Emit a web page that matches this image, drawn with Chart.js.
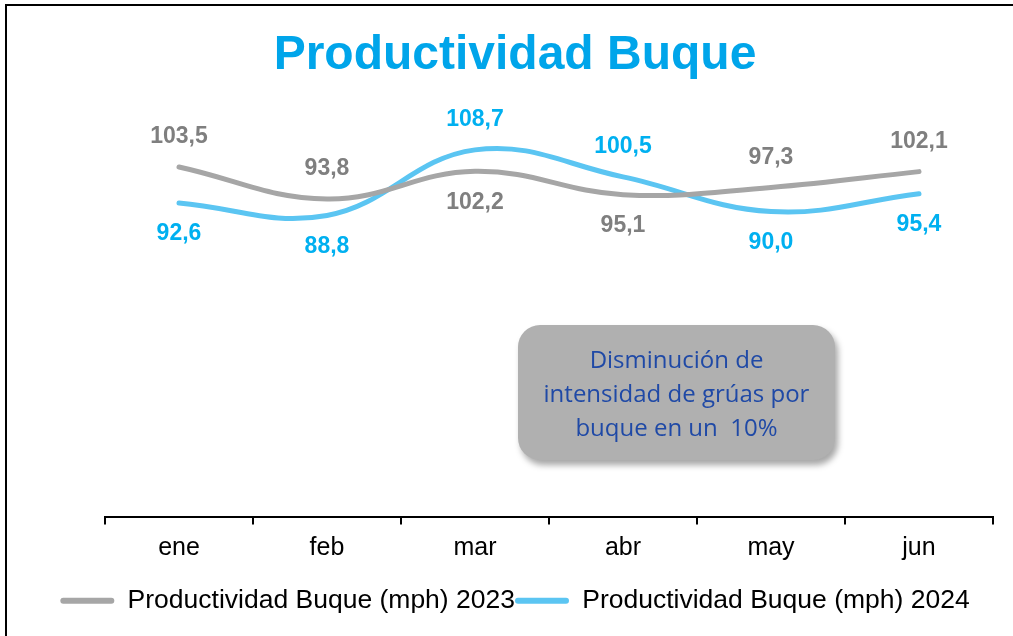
<!DOCTYPE html>
<html>
<head>
<meta charset="utf-8">
<script src="https://cdn.jsdelivr.net/npm/chart.js@4"></script>
<style>
  body { margin: 0; background: #fff; }
  #wrap { position: relative; width: 1013px; height: 636px; overflow: hidden; }
  #frame { position: absolute; left: 5px; top: 4px; width: 1100px; height: 700px;
           border-left: 2px solid #000; border-top: 2px solid #000; }
  #note { position: absolute; left: 518px; top: 325px; width: 317px; height: 135px;
          background: #b0b0b0; border-radius: 22px; box-shadow: 3px 5px 6px rgba(0,0,0,0.35);
          display: flex; align-items: center; justify-content: center; text-align: center;
          font-family: "Open Sans", sans-serif; font-size: 24px; line-height: 34px; color: #1f49a6; }
</style>
</head>
<body>
<div id="wrap">
  <div id="frame"></div>
  <canvas id="chart" width="1013" height="636"></canvas>
  <div id="note">Disminución de<br>intensidad de grúas por<br>buque en un&nbsp; 10%</div>
</div>
<script>
// data
const months = ['ene', 'feb', 'mar', 'abr', 'may', 'jun'];
const prod2023 = [103.5, 93.8, 102.2, 95.1, 97.3, 102.1];
const prod2024 = [92.6, 88.8, 108.7, 100.5, 90.0, 95.4];

// where each value label sits relative to its point
const place2023 = ['above', 'above', 'below', 'below', 'above', 'above'];
const place2024 = ['below', 'below', 'above', 'above', 'below', 'below'];

// Plugin to write the values next to the points
const valueLabels = {
    id: 'valueLabels',
    afterDatasetsDraw(chart) {
        const ctx = chart.ctx;
        ctx.save();
        ctx.font = 'bold 23px Arial, "Liberation Sans", sans-serif';
        ctx.textAlign = 'center';
        ctx.textBaseline = 'middle';
        chart.data.datasets.forEach((ds, i) => {
            const meta = chart.getDatasetMeta(i);
            meta.data.forEach((pt, j) => {
                const dy = ds.places[j] === 'above' ? -30 : 31;
                ctx.fillStyle = ds.labelColor;
                ctx.fillText(ds.data[j].toFixed(1).replace('.', ','), pt.x, pt.y + dy);
            });
        });
        ctx.restore();
    }
};

const ctx = document.getElementById('chart').getContext('2d');
new Chart(ctx, {
    type: 'line',
    data: {
        labels: months,
        datasets: [{
            label: 'Productividad Buque (mph) 2023',
            data: prod2023,
            places: place2023,
            labelColor: '#7f7f7f',
            borderColor: '#a6a6a6',
            backgroundColor: '#a6a6a6',
            borderWidth: 5,
            borderCapStyle: 'round',
            pointRadius: 0,
            tension: 0.4
        }, {
            label: 'Productividad Buque (mph) 2024',
            data: prod2024,
            places: place2024,
            labelColor: '#00b0f0',
            borderColor: '#5bc5f2',
            backgroundColor: '#5bc5f2',
            borderWidth: 5,
            borderCapStyle: 'round',
            pointRadius: 0,
            tension: 0.4
        }]
    },
    options: {
        responsive: false,
        animation: false,
        layout: { padding: { left: 37, right: 20, top: 0, bottom: 12 } },
        plugins: {
            title: {
                display: true,
                text: 'Productividad Buque',
                color: '#00a5ea',
                font: { family: 'Arial, "Liberation Sans", sans-serif', size: 48, weight: 'bold' },
                padding: { top: 27, bottom: 28 }
            },
            legend: {
                position: 'bottom',
                labels: {
                    color: '#000',
                    font: { family: 'Arial, "Liberation Sans", sans-serif', size: 26.5 },
                    boxWidth: 54,
                    boxHeight: 6,
                    padding: 0,
                    useBorderRadius: true,
                    borderRadius: 3,
                    generateLabels(chart) {
                        const items = Chart.defaults.plugins.legend.labels.generateLabels(chart);
                        items.forEach(it => { it.lineWidth = 0; });
                        return items;
                    }
                }
            },
            tooltip: { enabled: false }
        },
        scales: {
            x: {
                offset: true,
                grid: { offset: true, drawOnChartArea: false, tickLength: 8, color: '#000', lineWidth: 2 },
                border: { display: true, color: '#000', width: 2 },
                ticks: {
                    color: '#000', padding: 9,
                    font: { family: 'Arial, "Liberation Sans", sans-serif', size: 25 }
                },
                afterFit(scale) { scale.height += 15; }
            },
            y: {
                min: -2.5,
                max: 120,
                grid: { display: false },
                border: { display: false },
                ticks: { display: false },
                afterFit(scale) { scale.width = 68; }
            }
        }
    },
    plugins: [valueLabels]
});
</script>
</body>
</html>
